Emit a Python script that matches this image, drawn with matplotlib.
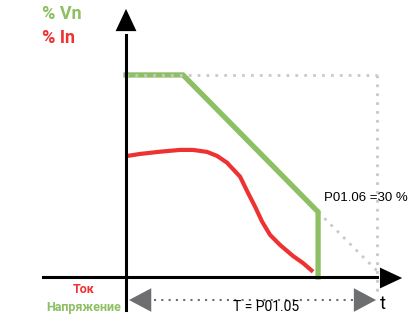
import matplotlib.pyplot as plt

# chart units: t as fraction of T, value in % of nominal
volt_t = [0.0, 0.227, 0.765, 0.765]
volt_v = [100, 100, 32.2, 0]

curr_t = [0.004, 0.056, 0.135, 0.215, 0.267, 0.323, 0.363, 0.402, 0.454, 0.486,
          0.514, 0.542, 0.574, 0.614, 0.665, 0.705, 0.745]
curr_v = [59.9, 60.9, 62.0, 62.9, 62.9, 61.9, 59.9, 56.6, 49.7, 41.6,
          34.8, 27.4, 20.8, 15.8, 10.4, 6.9, 2.6]

limit_v = 30
T = 1.0

GREEN = '#8dbf63'
RED = '#ee3131'
GRAY = '#c9c9c9'
DARK = '#6d6e70'
FONT = ['Roboto', 'DejaVu Sans']

fig = plt.figure(figsize=(4.18, 3.18), dpi=100)
ax = fig.add_axes([0, 0, 1, 1])
ax.set_xlim(-0.502, 1.163)
ax.set_ylim(-20.3, 137.1)
ax.axis('off')

# guide lines
ax.plot([0, T], [100, 100], color=GRAY, lw=2, ls=(0, (1, 2.2)), zorder=4)
ax.plot([T, T], [100, -7.5], color=GRAY, lw=2, ls=(0, (1, 2.2)), zorder=1)
ax.plot([volt_t[2], T], [volt_v[2], 3], color=GRAY, lw=2, ls=(0, (1, 2.2)), zorder=1)

ax.plot(volt_t, volt_v, color=GREEN, lw=3.8, zorder=3, solid_joinstyle='miter')
ax.plot(curr_t, curr_v, color=RED, lw=3.0, zorder=3, solid_capstyle='butt',
        solid_joinstyle='round')

# axes with arrows
ax.plot([0, 0], [-16.3, 120], color='black', lw=2.2, zorder=5)
ax.annotate('', xy=(0, 132.7), xytext=(0, 118), zorder=5,
            arrowprops=dict(arrowstyle='-|>,head_length=1.6,head_width=0.75',
                            color='black', lw=0, mutation_scale=10, shrinkA=0, shrinkB=0))
ax.plot([-0.331, 1.0], [0, 0], color='black', lw=2.2, zorder=5)
ax.annotate('', xy=(1.10, -0.5), xytext=(0.98, -0.5), zorder=5,
            arrowprops=dict(arrowstyle='-|>,head_length=1.6,head_width=0.75',
                            color='black', lw=0, mutation_scale=10, shrinkA=0, shrinkB=0))

# dimension arrow for T
ax.plot([0.11, 0.92], [-11.4, -11.4], color=DARK, lw=1.5, ls=(0, (1, 2.5)), zorder=4)
for x0, x1 in [(0.15, 0.0), (0.85, T)]:
    ax.annotate('', xy=(x1 + (0.012 if x1 == 0 else -0.004), -11.4), xytext=(x0, -11.4), zorder=5,
                arrowprops=dict(arrowstyle='-|>,head_length=1.6,head_width=0.85',
                                color=DARK, lw=0, mutation_scale=10, shrinkA=0, shrinkB=0))

ax.text(0.557, -15.0, 'T = P01.05', fontsize=10, family=FONT, ha='center', va='center', zorder=6)
ax.text(1.012, -13.5, 't', fontsize=13, family=FONT, ha='left', va='center', zorder=6)
ax.text(0.79, 39, 'P01.06 =' + str(limit_v) + ' %', fontsize=9.5, family=['Liberation Sans', 'DejaVu Sans'],
        ha='left', va='center', zorder=6)

ax.text(-0.335, 130.2, '% Vn', fontsize=13, fontweight='bold', family=FONT, color=GREEN, va='center')
ax.text(-0.335, 118.3, '% In', fontsize=13, fontweight='bold', family=FONT, color=RED, va='center')
ax.text(-0.17, -6.0, 'Ток', fontsize=9, fontweight='bold', family=FONT, color=RED, ha='center', va='center')
ax.text(-0.17, -15.0, 'Напряжение', fontsize=9, fontweight='bold', family=FONT, color=GREEN,
        ha='center', va='center')

fig.savefig('out.png', dpi=100)
